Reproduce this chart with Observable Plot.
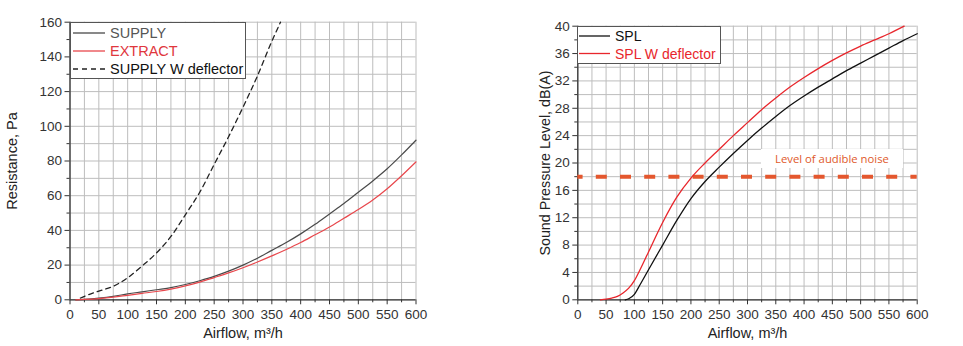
<!DOCTYPE html>
<html>
<head>
<meta charset="utf-8">
<script src="https://cdn.jsdelivr.net/npm/d3@7"></script>
<script src="https://cdn.jsdelivr.net/npm/@observablehq/plot@0.6"></script>
<style>
  html, body { margin: 0; padding: 0; background: #fff; }
  #wrap { position: relative; width: 963px; height: 346px; overflow: hidden; background: #fff; font-family: "Liberation Sans", Arial, sans-serif; }
  .panel { position: absolute; top: 0; }
  .legend { position: absolute; background: #fff; border: 1px solid #555; box-sizing: border-box; }
  .legend svg { display: block; }
  .note { position: absolute; background: #fff; text-align: center; font-family: "Open Sans", sans-serif; font-size: 11.3px; color: #e0592a; }
</style>
</head>
<body>
<div id="wrap"></div>
<script>
// ---------- Data: left panel (Resistance) ----------
const flowSupply = [10, 25, 50, 75, 100, 125, 150, 175, 200, 225, 250, 275, 300, 325, 350, 375, 400, 425, 450, 475, 500, 525, 550, 575, 600];
const paSupply   = [0, 0.3, 1, 2, 3.4, 4.6, 5.8, 7, 8.8, 11, 13.5, 16.5, 20, 24, 28.5, 33, 38, 43.5, 49.5, 55.5, 62, 68.5, 75.5, 83.5, 92];
const flowExtract = [10, 25, 50, 75, 100, 125, 150, 175, 200, 225, 250, 275, 300, 325, 350, 375, 400, 425, 450, 475, 500, 525, 550, 575, 600];
const paExtract   = [0, 0.2, 0.7, 1.5, 2.6, 3.7, 4.8, 6.2, 8, 10.2, 12.8, 15.5, 18.5, 21.8, 25.3, 29, 33, 37.5, 42, 47, 52, 57.5, 64, 71.5, 79.5];
const flowDeflector = [18, 25, 50, 75, 100, 125, 150, 175, 200, 225, 250, 275, 300, 325, 350, 365];
const paDeflector   = [1, 2, 5, 7.8, 12.7, 19.5, 27, 36.5, 49, 62, 78, 94, 111, 129, 149, 160];

// ---------- Data: right panel (Sound pressure level) ----------
const flowSpl = [84, 90, 100, 110, 125, 150, 175, 200, 225, 250, 275, 300, 325, 350, 375, 400, 425, 450, 475, 500, 525, 550, 575, 600];
const dbSpl   = [0, 0.15, 0.8, 2.2, 4.4, 8.0, 11.6, 14.8, 17.3, 19.4, 21.4, 23.3, 25.1, 26.8, 28.4, 29.8, 31.1, 32.3, 33.5, 34.6, 35.7, 36.8, 37.9, 38.9];
const flowSplDefl = [40, 50, 60, 70, 80, 90, 100, 110, 125, 150, 175, 200, 225, 250, 275, 300, 325, 350, 375, 400, 425, 450, 475, 500, 525, 550, 577];
const dbSplDefl   = [0, 0.1, 0.25, 0.5, 1, 1.7, 2.8, 4.4, 7.0, 11.3, 15.0, 17.8, 20.0, 22.0, 24.0, 25.9, 27.8, 29.5, 31.1, 32.5, 33.8, 35.0, 36.1, 37.1, 38.0, 38.9, 40];
const noiseLevel = [18];
const noiseLabel = "Level of audible noise";

// ---------- Ticks and labels ----------
const xMajor = [0, 50, 100, 150, 200, 250, 300, 350, 400, 450, 500, 550, 600];
const xMinor = [25, 75, 125, 175, 225, 275, 325, 375, 425, 475, 525, 575];
const xGrid = d3.range(0, 601, 25);
const yLeftMajor = [0, 20, 40, 60, 80, 100, 120, 140, 160];
const yLeftMinor = [10, 30, 50, 70, 90, 110, 130, 150];
const yLeftGrid = d3.range(0, 161, 10);
const yRightMajor = [0, 4, 8, 12, 16, 20, 24, 28, 32, 36, 40];
const yRightMinor = [2, 6, 10, 14, 18, 22, 26, 30, 34, 38];
const yRightGrid = d3.range(0, 41, 2);
const xTitle = "Airflow, m\u00b3/h";
const yLeftTitle = "Resistance, Pa";
const yRightTitle = "Sound Pressure Level, dB(A)";
const leftLegend = [
  {label: "SUPPLY", stroke: "#4a4a4a", text: "#555555", dash: null},
  {label: "EXTRACT", stroke: "#e8474c", text: "#e0373d", dash: null},
  {label: "SUPPLY W deflector", stroke: "#222222", text: "#111111", dash: "5,4"}
];
const rightLegend = [
  {label: "SPL", stroke: "#111111", text: "#111111", dash: null},
  {label: "SPL W deflector", stroke: "#e8262c", text: "#e8262c", dash: null}
];

const rows = (xs, ys) => xs.map((x, i) => ({x, y: ys[i]}));
const gridColor = "#bdbdbd";
const axisColor = "#333";

function frameMarks(yMajor, yMinor, yGrid) {
  return [
    Plot.gridX(xGrid, {stroke: gridColor, strokeOpacity: 1, strokeWidth: 1}),
    Plot.gridY(yGrid, {stroke: gridColor, strokeOpacity: 1, strokeWidth: 1}),
    Plot.axisX(xMinor, {tickSize: 3, fill: "none", stroke: axisColor, label: null}),
    Plot.axisY(yMinor, {tickSize: 3, fill: "none", stroke: axisColor, label: null}),
    Plot.axisX(xMajor, {tickSize: 5, tickPadding: 5, color: axisColor, label: null}),
    Plot.axisY(yMajor, {tickSize: 5, tickPadding: 3, color: axisColor, label: null}),
    Plot.ruleX([0], {stroke: axisColor, strokeWidth: 1.3}),
    Plot.ruleY([0], {stroke: axisColor, strokeWidth: 1.3})
  ];
}

const baseStyle = {fontFamily: "'Liberation Sans', Arial, sans-serif", fontSize: "13.5px", color: "#333", background: "transparent", overflow: "visible"};

const left = Plot.plot({
  width: 440, height: 346,
  marginLeft: 69.5, marginRight: 24.5, marginTop: 21.7, marginBottom: 46.7,
  x: {domain: [0, 600], label: null},
  y: {domain: [0, 160], label: null},
  style: baseStyle,
  marks: [
    ...frameMarks(yLeftMajor, yLeftMinor, yLeftGrid),
    Plot.line(rows(flowSupply, paSupply), {x: "x", y: "y", stroke: "#4a4a4a", strokeWidth: 1.2, curve: "monotone-x"}),
    Plot.line(rows(flowExtract, paExtract), {x: "x", y: "y", stroke: "#e8474c", strokeWidth: 1.2, curve: "monotone-x"}),
    Plot.line(rows(flowDeflector, paDeflector), {x: "x", y: "y", stroke: "#222", strokeWidth: 1.3, strokeDasharray: "5,4", curve: "monotone-x"}),
    Plot.text([xTitle], {text: d => d, frameAnchor: "bottom", dy: 38, fontSize: 14.5, fill: "#222", textAnchor: "middle"}),
    Plot.text([yLeftTitle], {text: d => d, frameAnchor: "left", dx: -57.5, rotate: -90, fontSize: 14.5, fill: "#222", textAnchor: "middle"})
  ]
});

const right = Plot.plot({
  width: 443, height: 346,
  marginLeft: 57.3, marginRight: 46.3, marginTop: 25.7, marginBottom: 46.7,
  x: {domain: [0, 600], label: null},
  y: {domain: [0, 40], label: null},
  style: baseStyle,
  marks: [
    ...frameMarks(yRightMajor, yRightMinor, yRightGrid),
    Plot.ruleY(noiseLevel, {stroke: "#e4572e", strokeWidth: 4, strokeDasharray: "11,13.2", strokeDashoffset: 5.7}),
    Plot.line(rows(flowSpl, dbSpl), {x: "x", y: "y", stroke: "#111", strokeWidth: 1.3, curve: "monotone-x"}),
    Plot.line(rows(flowSplDefl, dbSplDefl), {x: "x", y: "y", stroke: "#e8262c", strokeWidth: 1.3, curve: "monotone-x"}),
    Plot.text([xTitle], {text: d => d, frameAnchor: "bottom", dy: 38, fontSize: 14.5, fill: "#222", textAnchor: "middle"}),
    Plot.text([yRightTitle], {text: d => d, frameAnchor: "left", dx: -32.3, rotate: -90, fontSize: 14.3, fill: "#222", textAnchor: "middle"})
  ]
});

const wrap = document.getElementById("wrap");
left.classList.add("panel"); left.style.left = "0px";
right.classList.add("panel"); right.style.left = "520px";
wrap.appendChild(left);
wrap.appendChild(right);

function makeLegend(items, box) {
  const div = document.createElement("div");
  div.className = "legend";
  Object.assign(div.style, {left: box.left + "px", top: box.top + "px", width: box.width + "px", height: box.height + "px"});
  const ns = "http://www.w3.org/2000/svg";
  const svg = document.createElementNS(ns, "svg");
  svg.setAttribute("width", box.width - 2);
  svg.setAttribute("height", box.height - 2);
  items.forEach((it, i) => {
    const cy = box.first + i * box.step;
    const ln = document.createElementNS(ns, "line");
    ln.setAttribute("x1", box.lx1); ln.setAttribute("x2", box.lx2);
    ln.setAttribute("y1", cy); ln.setAttribute("y2", cy);
    ln.setAttribute("stroke", it.stroke); ln.setAttribute("stroke-width", 1.3);
    if (it.dash) ln.setAttribute("stroke-dasharray", it.dash);
    svg.appendChild(ln);
    const t = document.createElementNS(ns, "text");
    t.setAttribute("x", box.tx); t.setAttribute("y", cy);
    t.setAttribute("dy", "0.36em");
    t.setAttribute("fill", it.text);
    t.setAttribute("font-family", "'Liberation Sans', Arial, sans-serif");
    t.setAttribute("font-size", box.fontSize);
    t.textContent = it.label;
    svg.appendChild(t);
  });
  div.appendChild(svg);
  wrap.appendChild(div);
}

makeLegend(leftLegend, {left: 69.5, top: 21.5, width: 176, height: 57, first: 10, step: 18, lx1: 2, lx2: 34, tx: 39, fontSize: 14.5});
makeLegend(rightLegend, {left: 577, top: 25.5, width: 143.5, height: 38, first: 9, step: 17.5, lx1: 1, lx2: 32, tx: 37, fontSize: 14});

const note = document.createElement("div");
note.className = "note";
Object.assign(note.style, {left: "761px", top: "149px", width: "142px", height: "19px", lineHeight: "19px"});
note.textContent = noiseLabel;
wrap.appendChild(note);
</script>
</body>
</html>
